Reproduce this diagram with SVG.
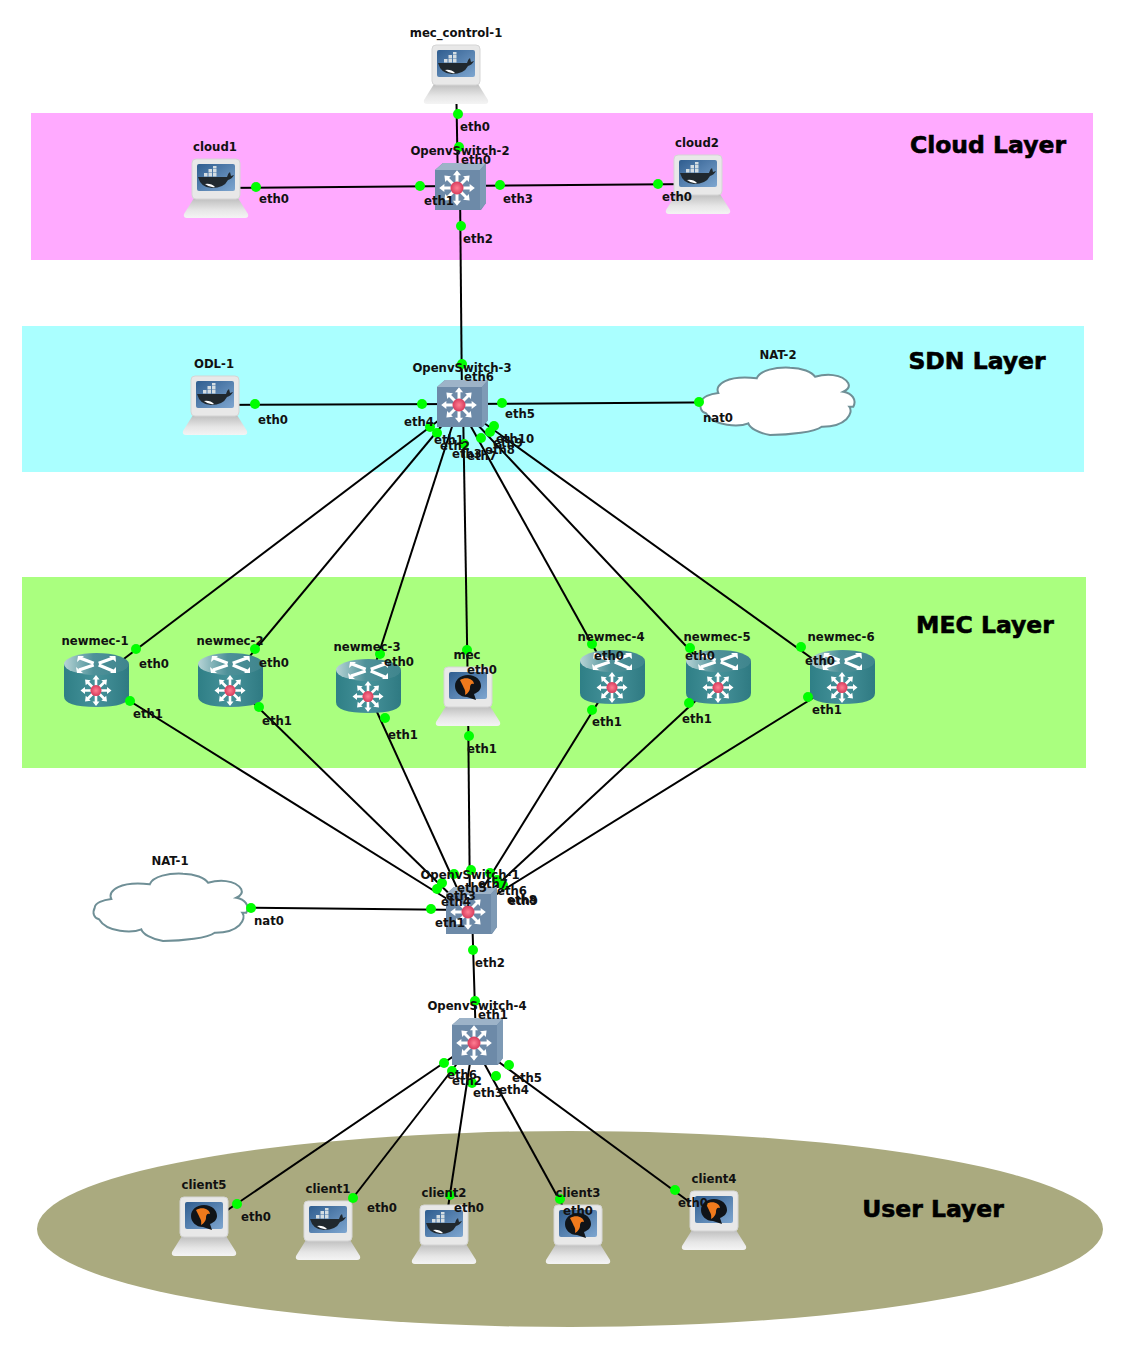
<svg xmlns="http://www.w3.org/2000/svg" width="1125" height="1350" viewBox="0 0 1125 1350">
<style>
text{font-family:"DejaVu Sans",Verdana,sans-serif;font-weight:700;fill:#111;text-anchor:middle}
.l{font-size:11.7px}
.t{font-size:23.5px;fill:#000;stroke:#000;stroke-width:.6}
#connectors line{stroke:#000;stroke-width:2}
.d{fill:#0f0}
</style>
<defs>
<linearGradient id="gBase" x1="0" y1="0" x2="0" y2="1"><stop offset="0" stop-color="#bdbdbd"/><stop offset="0.6" stop-color="#e6e6e6"/><stop offset="1" stop-color="#f4f4f4"/></linearGradient>
<linearGradient id="gScr" x1="0" y1="0" x2="1" y2="1"><stop offset="0" stop-color="#2f5d8f"/><stop offset="1" stop-color="#7ea6d0"/></linearGradient>
<radialGradient id="gRed"><stop offset="0" stop-color="#ff7f93"/><stop offset="1" stop-color="#d83c5c"/></radialGradient>
<linearGradient id="gCyl" x1="0" y1="0" x2="1" y2="0"><stop offset="0" stop-color="#2f7f86"/><stop offset="0.5" stop-color="#46929a"/><stop offset="1" stop-color="#2f7a82"/></linearGradient>
<linearGradient id="gTop" x1="0" y1="0" x2="1" y2="0"><stop offset="0" stop-color="#b7d4d6"/><stop offset="0.45" stop-color="#4e9199"/><stop offset="1" stop-color="#3f858d"/></linearGradient>
<path id="arm" d="M-1.300 0V-11H-3.500L0 -15.500L3.500 -11H1.300V0Z" fill="#fff"/>
<g id="star">
<use href="#arm"/><use href="#arm" transform="rotate(45)"/><use href="#arm" transform="rotate(90)"/><use href="#arm" transform="rotate(135)"/><use href="#arm" transform="rotate(180)"/><use href="#arm" transform="rotate(225)"/><use href="#arm" transform="rotate(270)"/><use href="#arm" transform="rotate(315)"/>
</g>
<g id="pcbody">
<path d="M10 39H54L64 55Q65 59 61 59H3Q-1 59 0 55Z" fill="url(#gBase)"/>
<rect x="8" y="0" width="48" height="40" rx="4" fill="#e8e8e8" stroke="#d5d5d5"/>
</g>
<g id="pcdocker">
<use href="#pcbody"/>
<rect x="13" y="5" width="38" height="27" rx="2" fill="url(#gScr)"/>
<path d="M14 18H43Q44 14 46 13L47 17L50 16Q48 20 44 21Q40 29 28 29Q17 29 14 18Z" fill="#20282e"/>
<path d="M20 14h3.500v3.500h-3.500zM24.500 14h3.500v3.500h-3.500zM29 14h3.500v3.500h-3.500zM24.500 10h3.500v3.500h-3.500zM29 10h3.500v3.500h-3.500zM29 7h3.500v2.500h-3.500z" fill="#d4dde2"/>
<path d="M21 25Q26 29 31 28Q27 24 21 25Z" fill="#fff"/>
</g>
<g id="pcqemu">
<use href="#pcbody"/>
<rect x="13" y="5" width="38" height="27" rx="2" fill="url(#gScr)"/>
<path d="M32 8C24 8 19 13 19 19C19 25 24 30 31 30L40 33L38 27C43 25 45 22 45 19C45 13 40 8 32 8Z" fill="#101418"/>
<path d="M24 13C30 9 38 12 38 17C35 16 34 18 34 21C34 24 31 27 29 28C30 23 28 22 27 19C26 17 25 15 24 13Z" fill="#f07a1c"/>
</g>
<g id="sw">
<path d="M0 7L8 0H51V40L46 47H0Z" fill="#6d8aa8"/>
<path d="M0 7L8 0H51L45 7Z" fill="#9db3c8"/>
<path d="M45 7L51 0V40L45 47Z" fill="#7e9ab5"/>
<use href="#star" transform="translate(22 25) scale(1.15)"/>
<circle cx="22" cy="25" r="6.500" fill="url(#gRed)"/>
</g>
<g id="rt">
<path d="M0 11V43Q0 54 32.500 54Q65 54 65 43V11Z" fill="url(#gCyl)"/>
<ellipse cx="32.500" cy="11" rx="32.500" ry="11" fill="url(#gTop)"/>
<path d="M16 5L29.700 10.300M15 17L29.700 12M34.700 10.300L49 5M34.700 12L49 18" stroke="#fff" stroke-width="3.200" fill="none"/>
<path d="M13 9L14 3L20 3ZM12 14L13 20L19 20ZM51.500 3L52 9L45 3ZM52 20L52 14L46 20Z" fill="#fff"/>
<use href="#star" transform="translate(32 37.500)"/>
<circle cx="32" cy="37.500" r="5.500" fill="url(#gRed)"/>
</g>
<path id="cl" d="M1.700 34.700C2 30 10 27 18.300 26C14 17 28 8 56.700 11.300C60 3 76 0 90 0.700C102 1 112 5 115 9.700C125 7 142 6 148.300 16.300C150 20 147 23 143.300 24.700C152 26 157 33 153.300 39.700L149.300 39.700C154 46 146 60 121.700 59.700C115 65 90 68 70 68C58 66 50 61 48.300 56.300C40 60 14 60 6 46.300C1 45 -1 40 1.700 34.700Z" fill="#fff" stroke="#6f8f96" stroke-width="2"/>
</defs>

<rect x="31" y="113" width="1062" height="147" fill="#ffaaff"/>
<rect x="22" y="326" width="1062" height="146" fill="#aaffff"/>
<rect x="22" y="577" width="1064" height="191" fill="#aaff7f"/>
<ellipse cx="570" cy="1229" rx="533" ry="98" fill="#aaaa7f"/>
<text class="t" x="988" y="153">Cloud Layer</text>
<text class="t" x="977" y="369">SDN Layer</text>
<text class="t" x="985" y="633">MEC Layer</text>
<text class="t" x="933" y="1217">User Layer</text>

<g id="connectors">
<line x1="456" y1="75" x2="458" y2="188"/>
<line x1="216" y1="188" x2="458" y2="186"/>
<line x1="458" y1="186" x2="698" y2="184"/>
<line x1="460" y1="188" x2="462" y2="405"/>
<line x1="215" y1="405" x2="459" y2="404"/>
<line x1="459" y1="404" x2="777" y2="402"/>
<line x1="459" y1="405" x2="96" y2="680"/>
<line x1="459" y1="405" x2="230" y2="680"/>
<line x1="459" y1="405" x2="367" y2="690"/>
<line x1="463" y1="405" x2="468" y2="697"/>
<line x1="459" y1="405" x2="612" y2="680"/>
<line x1="459" y1="405" x2="718" y2="680"/>
<line x1="459" y1="405" x2="842" y2="680"/>
<line x1="96" y1="680" x2="468" y2="912"/>
<line x1="230" y1="680" x2="468" y2="912"/>
<line x1="367" y1="690" x2="468" y2="912"/>
<line x1="468" y1="697" x2="470" y2="912"/>
<line x1="612" y1="680" x2="468" y2="912"/>
<line x1="718" y1="680" x2="468" y2="912"/>
<line x1="842" y1="680" x2="468" y2="912"/>
<line x1="170" y1="907" x2="468" y2="910"/>
<line x1="472" y1="912" x2="476" y2="1043"/>
<line x1="473" y1="1043" x2="204" y2="1226"/>
<line x1="473" y1="1043" x2="328" y2="1230"/>
<line x1="473" y1="1043" x2="444" y2="1234"/>
<line x1="473" y1="1043" x2="578" y2="1234"/>
<line x1="473" y1="1043" x2="714" y2="1220"/>
</g>

<g id="mec_control-1"><use href="#pcdocker" x="424" y="45"/></g>
<g id="cloud1"><use href="#pcdocker" x="184" y="159"/></g>
<g id="cloud2"><use href="#pcdocker" x="666" y="155"/></g>
<g id="ODL-1"><use href="#pcdocker" x="183" y="376"/></g>
<g id="mec"><use href="#pcqemu" x="436" y="667"/></g>
<g id="client5"><use href="#pcqemu" x="172" y="1197"/></g>
<g id="client1"><use href="#pcdocker" x="296" y="1201"/></g>
<g id="client2"><use href="#pcdocker" x="412" y="1205"/></g>
<g id="client3"><use href="#pcqemu" x="546" y="1205"/></g>
<g id="client4"><use href="#pcqemu" x="682" y="1191"/></g>
<g id="OpenvSwitch-2"><use href="#sw" x="435" y="163"/></g>
<g id="OpenvSwitch-3"><use href="#sw" x="437" y="380"/></g>
<g id="OpenvSwitch-1"><use href="#sw" x="446" y="887"/></g>
<g id="OpenvSwitch-4"><use href="#sw" x="452" y="1018"/></g>
<g id="newmec-1"><use href="#rt" x="64" y="653"/></g>
<g id="newmec-2"><use href="#rt" x="198" y="653"/></g>
<g id="newmec-3"><use href="#rt" x="336" y="659"/></g>
<g id="newmec-4"><use href="#rt" x="580" y="650"/></g>
<g id="newmec-5"><use href="#rt" x="686" y="650"/></g>
<g id="newmec-6"><use href="#rt" x="810" y="650"/></g>
<g id="NAT-2"><use href="#cl" x="700" y="367"/></g>
<g id="NAT-1"><use href="#cl" x="93" y="873"/></g>

<g id="dots" class="d">
<circle cx="458" cy="114" r="5"/><circle cx="459" cy="147" r="5"/>
<circle cx="256" cy="187" r="5"/><circle cx="420" cy="186" r="5"/>
<circle cx="500" cy="185" r="5"/><circle cx="658" cy="184" r="5"/>
<circle cx="461" cy="226" r="5"/><circle cx="462" cy="364" r="5"/>
<circle cx="255" cy="404" r="5"/><circle cx="422" cy="404" r="5"/>
<circle cx="502" cy="403" r="5"/><circle cx="699" cy="402" r="5"/>
<circle cx="430" cy="427" r="5"/><circle cx="437" cy="433" r="5"/><circle cx="464" cy="444" r="5"/>
<circle cx="481" cy="438" r="5"/><circle cx="490" cy="432" r="5"/><circle cx="494" cy="426" r="5"/>
<circle cx="136" cy="649" r="5"/><circle cx="255" cy="649" r="5"/><circle cx="380" cy="654" r="5"/>
<circle cx="467" cy="650" r="5"/><circle cx="592" cy="644" r="5"/><circle cx="690" cy="648" r="5"/><circle cx="801" cy="647" r="5"/>
<circle cx="130" cy="701" r="5"/><circle cx="259" cy="707" r="5"/><circle cx="385" cy="718" r="5"/>
<circle cx="469" cy="736" r="5"/><circle cx="592" cy="710" r="5"/><circle cx="689" cy="703" r="5"/><circle cx="808" cy="697" r="5"/>
<circle cx="437" cy="889" r="5"/><circle cx="442" cy="883" r="5"/><circle cx="454" cy="874" r="5"/>
<circle cx="471" cy="870" r="5"/><circle cx="490" cy="873" r="5"/><circle cx="497" cy="880" r="5"/><circle cx="503" cy="885" r="5"/>
<circle cx="431" cy="909" r="5"/><circle cx="251" cy="908" r="5"/>
<circle cx="473" cy="950" r="5"/><circle cx="475" cy="1001" r="5"/>
<circle cx="444" cy="1063" r="5"/><circle cx="452" cy="1071" r="5"/><circle cx="472" cy="1083" r="5"/>
<circle cx="496" cy="1076" r="5"/><circle cx="509" cy="1065" r="5"/>
<circle cx="237" cy="1204" r="5"/><circle cx="353" cy="1198" r="5"/><circle cx="450" cy="1195" r="5"/>
<circle cx="560" cy="1199" r="5"/><circle cx="675" cy="1190" r="5"/>
</g>

<g id="labels" class="l">
<text x="456" y="37">mec_control-1</text><text x="475" y="131">eth0</text><text x="460" y="155">OpenvSwitch-2</text><text x="476" y="164">eth0</text><text x="439" y="205">eth1</text><text x="518" y="203">eth3</text><text x="478" y="243">eth2</text>
<text x="215" y="151">cloud1</text><text x="274" y="203">eth0</text><text x="697" y="147">cloud2</text><text x="677" y="201">eth0</text>
<text x="214" y="368">ODL-1</text><text x="273" y="424">eth0</text><text x="462" y="372">OpenvSwitch-3</text><text x="479" y="381">eth6</text><text x="419" y="426">eth4</text><text x="520" y="418">eth5</text><text x="778" y="359">NAT-2</text><text x="718" y="422">nat0</text>
<text x="449" y="444">eth1</text><text x="455" y="450">eth2</text><text x="467" y="458">eth3</text><text x="482" y="460">eth7</text><text x="500" y="454">eth8</text><text x="508" y="447">eth9</text><text x="515" y="443">eth10</text>
<text x="95" y="645">newmec-1</text><text x="154" y="668">eth0</text><text x="148" y="718">eth1</text>
<text x="230" y="645">newmec-2</text><text x="274" y="667">eth0</text><text x="277" y="725">eth1</text>
<text x="367" y="651">newmec-3</text><text x="399" y="666">eth0</text><text x="403" y="739">eth1</text>
<text x="467" y="659">mec</text><text x="482" y="674">eth0</text><text x="482" y="753">eth1</text>
<text x="611" y="641">newmec-4</text><text x="609" y="660">eth0</text><text x="607" y="726">eth1</text>
<text x="717" y="641">newmec-5</text><text x="700" y="660">eth0</text><text x="697" y="723">eth1</text>
<text x="841" y="641">newmec-6</text><text x="820" y="665">eth0</text><text x="827" y="714">eth1</text>
<text x="470" y="879">OpenvSwitch-1</text><text x="493" y="888">eth7</text><text x="472" y="892">eth5</text><text x="512" y="895">eth6</text><text x="461" y="900">eth3</text><text x="522" y="904">eth8</text><text x="523" y="905">eth9</text><text x="456" y="906">eth4</text><text x="450" y="927">eth1</text><text x="490" y="967">eth2</text>
<text x="170" y="865">NAT-1</text><text x="269" y="925">nat0</text>
<text x="477" y="1010">OpenvSwitch-4</text><text x="493" y="1019">eth1</text><text x="462" y="1079">eth6</text><text x="467" y="1085">eth2</text><text x="488" y="1097">eth3</text><text x="514" y="1094">eth4</text><text x="527" y="1082">eth5</text>
<text x="204" y="1189">client5</text><text x="256" y="1221">eth0</text><text x="328" y="1193">client1</text><text x="382" y="1212">eth0</text><text x="444" y="1197">client2</text><text x="469" y="1212">eth0</text><text x="578" y="1197">client3</text><text x="578" y="1215">eth0</text><text x="714" y="1183">client4</text><text x="693" y="1207">eth0</text>
</g>
</svg>
